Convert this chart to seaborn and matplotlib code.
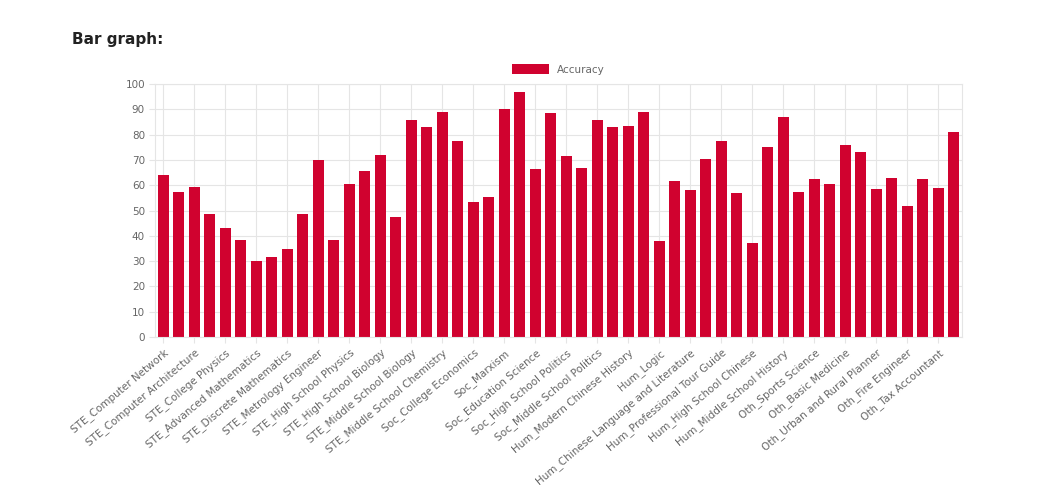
import matplotlib
matplotlib.use("Agg")
import matplotlib.pyplot as plt
import seaborn as sns
import pandas as pd

subjects = ["STE_Computer Network","STE_Operating System","STE_Computer Architecture","STE_College Programming",
"STE_College Physics","STE_College Chemistry","STE_Advanced Mathematics","STE_Probability and Statistics",
"STE_Discrete Mathematics","STE_Electrical Engineer","STE_Metrology Engineer","STE_High School Mathematics",
"STE_High School Physics","STE_High School Chemistry","STE_High School Biology","STE_Middle School Mathematics",
"STE_Middle School Biology","STE_Middle School Physics","STE_Middle School Chemistry","STE_Veterinary Medicine",
"Soc_College Economics","Soc_Business Administration","Soc_Marxism","Soc_Mao Zedong Thought",
"Soc_Education Science","Soc_Teacher Qualification","Soc_High School Politics","Soc_High School Geography",
"Soc_Middle School Politics","Soc_Middle School Geography","Hum_Modern Chinese History","Hum_Ideological and Moral Cultivation",
"Hum_Logic","Hum_Law","Hum_Chinese Language and Literature","Hum_Art Studies",
"Hum_Professional Tour Guide","Hum_Legal Professional","Hum_High School Chinese","Hum_High School History",
"Hum_Middle School History","Oth_Civil Servant","Oth_Sports Science","Oth_Plant Protection",
"Oth_Basic Medicine","Oth_Clinical Medicine","Oth_Urban and Rural Planner","Oth_Accountant",
"Oth_Fire Engineer","Oth_Environmental Impact Assessment Engineer","Oth_Tax Accountant","Oth_Physician"]
accuracy = [64,57.5,59.5,48.5,43,38.5,30,31.5,35,48.5,70,38.5,60.5,65.5,72,47.5,86,83,89,77.5,
53.5,55.5,90,97,66.5,88.5,71.5,67,86,83,83.5,89,38,61.5,58,70.5,77.5,57,37,75,87,57.5,62.5,60.5,
76,73,58.5,63,52,62.5,59,81]

df = pd.DataFrame({"subject": subjects, "Accuracy": accuracy})
color = "#d0022f"
fig = plt.figure(figsize=(10.43, 4.92), dpi=100)
ax = fig.add_axes([0.149, 0.315, 0.773, 0.514])
sns.barplot(data=df, x="subject", y="Accuracy", color=color, width=0.7, ax=ax, label="Accuracy", saturation=1)
ax.set_ylim(0, 100)
ax.set_yticks(range(0, 101, 10))
ax.set_xlim(-0.5, len(subjects) - 0.5)
ax.set_xticks(range(0, len(subjects), 2))
ax.set_xticklabels(subjects[::2], rotation=40, ha="right", rotation_mode="anchor", fontsize=7.5, color="#666666")
ax.tick_params(axis="y", labelsize=7.5, labelcolor="#666666", length=4, color="#e5e5e5")
ax.tick_params(axis="x", length=4, color="#e5e5e5")
ax.grid(True, color="#e5e5e5", linewidth=0.8)
ax.set_axisbelow(True)
for s in ax.spines.values():
    s.set_color("#e5e5e5")
ax.set_xlabel("")
ax.set_ylabel("")
ax.legend(loc="lower center", bbox_to_anchor=(0.5, 1.0), frameon=False, fontsize=7.5,
          handlelength=3.5, handleheight=1.1, labelcolor="#666666")
fig.text(0.069, 0.91, "Bar graph:", fontsize=11, fontweight="bold", color="#222222")
fig.savefig("out.png", dpi=100)
